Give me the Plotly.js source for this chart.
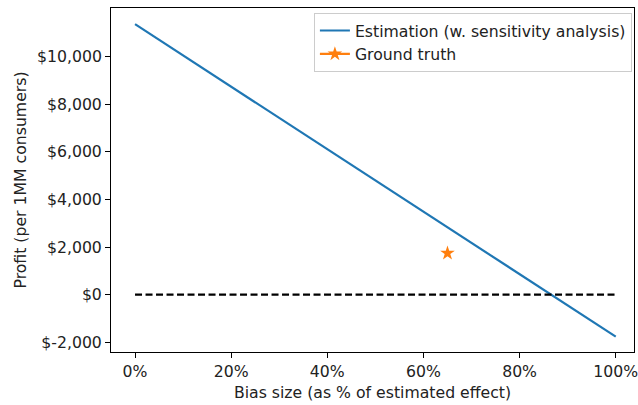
<!DOCTYPE html>
<html>
<head>
<meta charset="utf-8">
<script src="https://cdn.plot.ly/plotly-3.0.1.min.js"></script>
<style>html,body{margin:0;padding:0;background:#fff;}#chart{width:638px;height:405px;}</style>
</head>
<body>
<div id="chart"></div>
<script>
// Data
const BIAS_PCT = [0, 100];                 // Bias size (% of estimated effect)
const ESTIMATE_PROFIT = [11360, -1765];    // Estimation (w. sensitivity analysis)
const GROUND_TRUTH_BIAS = [65];
const GROUND_TRUTH_PROFIT = [1740];
const ZERO_LINE_X = [0, 100];
const ZERO_LINE_Y = [0, 0];
const X_TICKS = [0, 20, 40, 60, 80, 100];
const X_TICK_LABELS = ['0%', '20%', '40%', '60%', '80%', '100%'];
const Y_TICKS = [-2000, 0, 2000, 4000, 6000, 8000, 10000];
const Y_TICK_LABELS = ['$-2,000', '$0', '$2,000', '$4,000', '$6,000', '$8,000', '$10,000'];

const FONT = 'DejaVu Sans, sans-serif';
const FS = 15.7;

const traces = [
  {
    x: BIAS_PCT, y: ESTIMATE_PROFIT, mode: 'lines', name: 'Estimation (w. sensitivity analysis)',
    line: {color: '#1f77b4', width: 2.2}
  },
  {
    x: GROUND_TRUTH_BIAS, y: GROUND_TRUTH_PROFIT, mode: 'lines+markers', name: 'Ground truth',
    line: {color: '#ff7f0e', width: 2.2},
    marker: {symbol: 'star', size: 11, color: '#ff7f0e'}
  },
  {
    x: ZERO_LINE_X, y: ZERO_LINE_Y, mode: 'lines', showlegend: false,
    line: {color: '#000000', width: 2.4, dash: '7px,3.5px'}
  }
];

const layout = {
  width: 638, height: 405,
  margin: {l: 111, r: 4, t: 8, b: 53},
  paper_bgcolor: '#ffffff', plot_bgcolor: '#ffffff',
  font: {family: FONT, size: FS, color: '#222'},
  showlegend: true,
  legend: {
    x: 0.996, y: 0.986, xanchor: 'right', yanchor: 'top',
    bgcolor: 'rgba(255,255,255,0.8)', bordercolor: '#cccccc', borderwidth: 1,
    font: {family: FONT, size: FS, color: '#222'},
    tracegroupgap: 0
  },
  xaxis: {
    range: [-5, 103.8], tickvals: X_TICKS, ticktext: X_TICK_LABELS,
    ticklabeloverflow: 'allow',
    ticks: 'outside', ticklen: 5, tickwidth: 1, tickcolor: '#000',
    showline: true, linecolor: '#000', linewidth: 1, mirror: true,
    showgrid: false, zeroline: false,
    title: {text: 'Bias size (as % of estimated effect)', font: {family: FONT, size: FS, color: '#222'}, standoff: 7}
  },
  yaxis: {
    range: [-2410, 12040], tickvals: Y_TICKS, ticktext: Y_TICK_LABELS,
    ticks: 'outside', ticklen: 5, tickwidth: 1, tickcolor: '#000',
    showline: true, linecolor: '#000', linewidth: 1, mirror: true,
    showgrid: false, zeroline: false,
    title: {text: 'Profit (per 1MM consumers)', font: {family: FONT, size: FS, color: '#222'}, standoff: 6}
  }
};

Plotly.newPlot('chart', traces, layout, {displayModeBar: false, staticPlot: true});
</script>
</body>
</html>
